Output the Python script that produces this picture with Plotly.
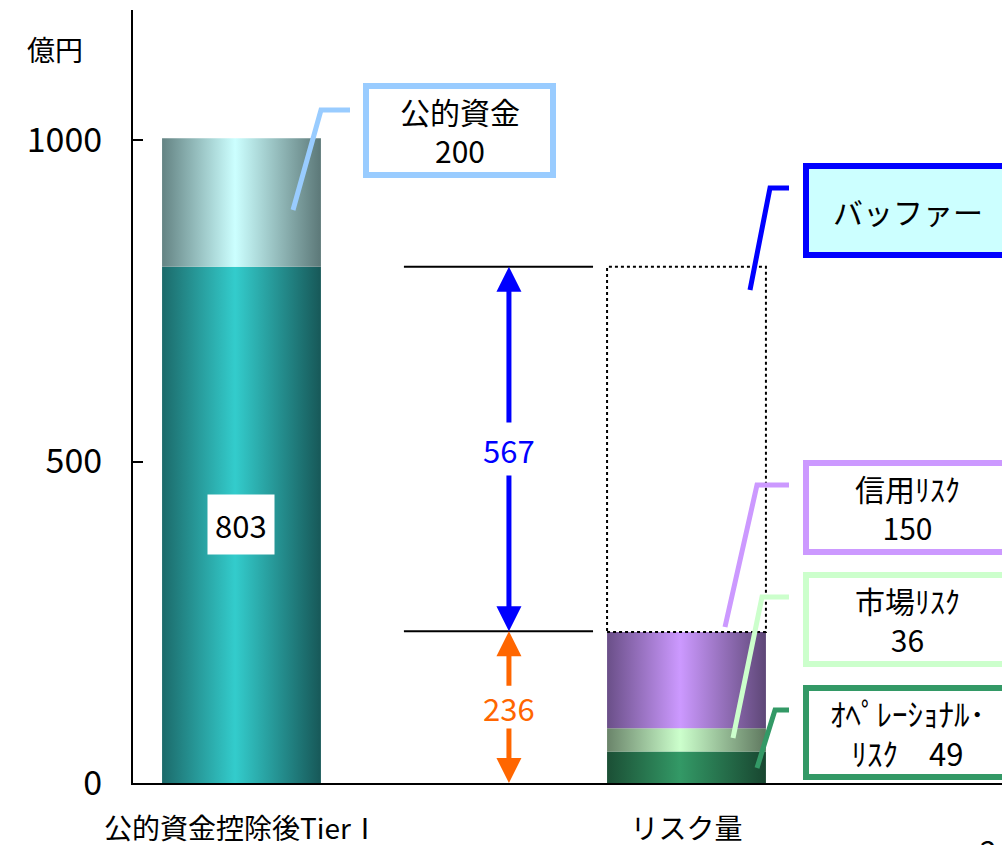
import plotly.graph_objects as go

# ---- data -------------------------------------------------------------
categories = ["公的資金控除後TierⅠ", "リスク量"]
capital_names = ["公的資金控除後TierⅠ", "公的資金"]
capital_values = [803, 200]
risk_names = ["ｵﾍﾟﾚｰｼｮﾅﾙ･ﾘｽｸ", "市場ﾘｽｸ", "信用ﾘｽｸ"]
risk_values = [49, 36, 150]
risk_total = 236
buffer_value = 567
y_ticks = [0, 500, 1000]

FONT = "Noto Sans CJK JP"

# ---- geometry of the plot area (pixels) --------------------------------
L, R, T, B = 133, 1002, 10, 783
W, H = 1002, 845


def px_x(X):
    return (X - L) / (R - L)


def px_y(Y):
    return (B - Y) / (B - T)


bar_pos = [0, 1]
bar_w = 0.357

# gradient colour scales: dark edges, bright centre
grad_capital = [[0, "#1c6a6a"], [0.46, "#33cccc"], [1, "#175858"]]
grad_public = [[0, "#648383"], [0.46, "#ccffff"], [1, "#5c7878"]]
grad_risk = [
    [[0, "#1b4f35"], [0.46, "#339966"], [1, "#184630"]],
    [[0, "#6a846a"], [0.46, "#ccffcc"], [1, "#5f785f"]],
    [[0, "#6a4f88"], [0.46, "#cc99ff"], [1, "#5e4777"]],
]


def bar_segment(center, base, value, scale, name):
    x0, x1 = center - bar_w / 2, center + bar_w / 2
    y0, y1 = base, base + value
    return go.Scatter(
        x=[x0, x1, x1, x0, x0],
        y=[y0, y0, y1, y1, y0],
        mode="lines",
        fill="toself",
        line=dict(width=0),
        fillgradient=dict(type="horizontal", colorscale=scale),
        name=name,
        hoverinfo="name",
        showlegend=False,
    )


fig = go.Figure()

# stacked capital column
base = 0
for name, val, sc in zip(capital_names, capital_values, [grad_capital, grad_public]):
    fig.add_trace(bar_segment(bar_pos[0], base, val, sc, name))
    base += val

# stacked risk column
base = 0
for name, val, sc in zip(risk_names, risk_values, grad_risk):
    fig.add_trace(bar_segment(bar_pos[1], base, val, sc, name))
    base += val
risk_sum = base

shapes = []
annotations = []

# dotted outline of the buffer above the risk column
shapes.append(dict(
    type="rect", xref="x", yref="y",
    x0=bar_pos[1] - bar_w / 2, x1=bar_pos[1] + bar_w / 2,
    y0=risk_sum, y1=capital_values[0],
    line=dict(color="black", width=2, dash="dot"),
    layer="above",
))

# reference levels for the measuring arrows
for lvl in [capital_values[0], risk_total]:
    shapes.append(dict(
        type="line", xref="x", yref="y",
        x0=0.365, x1=0.79, y0=lvl, y1=lvl,
        line=dict(color="black", width=2),
    ))

arrow_x = 0.601


def measure(y_lo, y_hi, value, color, gap):
    mid = (y_lo + y_hi) / 2
    for tip, tail in [(y_hi, mid + gap), (y_lo, mid - gap)]:
        annotations.append(dict(
            x=arrow_x, y=tip, ax=arrow_x, ay=tail,
            xref="x", yref="y", axref="x", ayref="y",
            text="", showarrow=True, arrowhead=2, arrowsize=1,
            arrowwidth=5, arrowcolor=color,
        ))
    annotations.append(dict(
        x=arrow_x, y=mid, xref="x", yref="y", text=str(value),
        xanchor="center", yanchor="middle",
        showarrow=False, font=dict(size=31, color=color, family=FONT),
    ))


measure(risk_total, risk_total + buffer_value, buffer_value, "#0000ff", 39)
measure(0, risk_total, risk_total, "#ff6600", 31)

# value label inside the capital column
annotations.append(dict(
    x=bar_pos[0], y=capital_values[0] / 2, xref="x", yref="y",
    text=str(capital_values[0]), showarrow=False, bgcolor="white",
    xanchor="center", yanchor="middle",
    borderpad=7, font=dict(size=31, color="black", family=FONT),
))


def callout(box, leader, text, color, fill="white", size=30):
    bx0, by0, bx1, by1 = box
    shapes.append(dict(
        type="rect", xref="paper", yref="paper",
        x0=px_x(bx0), x1=px_x(bx1), y0=px_y(by0), y1=px_y(by1),
        line=dict(color=color, width=6), fillcolor=fill, layer="above",
    ))
    path = "M " + " L ".join(f"{px_x(x):.5f},{px_y(y):.5f}" for x, y in leader)
    shapes.append(dict(
        type="path", xref="paper", yref="paper", path=path,
        line=dict(color=color, width=5), layer="above",
    ))
    annotations.append(dict(
        x=px_x((bx0 + bx1) / 2), y=px_y((by0 + by1) / 2),
        xref="paper", yref="paper", text=text, showarrow=False,
        xanchor="center", yanchor="middle",
        font=dict(size=size, color="black", family=FONT),
    ))


callout((366, 86, 553, 175), [(293, 210), (321, 110), (350, 110)],
        f"{capital_names[1]}<br>{capital_values[1]}", "#99ccff")
callout((806, 166, 1009, 255), [(750, 290), (770, 188), (789, 188)],
        "バッファー", "#0000ff", fill="#ccffff")
callout((806, 463, 1009, 552), [(725, 627), (757, 485), (789, 485)],
        f"{risk_names[2]}<br>{risk_values[2]}", "#cc99ff")
callout((806, 575, 1009, 664), [(733, 738), (762, 597), (789, 597)],
        f"{risk_names[1]}<br>{risk_values[1]}", "#ccffcc")
callout((806, 688, 1009, 777), [(757, 768), (775, 710), (789, 710)],
        "ｵﾍﾟﾚｰｼｮﾅﾙ･<br>ﾘｽｸ　" + str(risk_values[0]), "#339966", size=31)

# unit label
annotations.append(dict(
    x=px_x(55), y=px_y(49), xref="paper", yref="paper", text="億円",
    xanchor="center", yanchor="middle",
    showarrow=False, font=dict(size=28, color="black", family=FONT),
))
# page number at the lower right corner
annotations.append(dict(
    x=px_x(978), y=px_y(826), xref="paper", yref="paper", text="2",
    xanchor="left", yanchor="top", showarrow=False,
    font=dict(size=30, color="black", family=FONT),
))

fig.update_layout(
    width=W, height=H,
    margin=dict(l=L, r=W - R, t=T, b=H - B, autoexpand=False),
    paper_bgcolor="white", plot_bgcolor="white",
    showlegend=False,
    shapes=shapes, annotations=annotations,
    font=dict(family=FONT, color="black"),
    xaxis=dict(
        range=[-0.2438, 1.709], tickvals=bar_pos, ticktext=categories,
        showline=True, linecolor="black", linewidth=2, ticks="",
        showgrid=False, zeroline=False, tickfont=dict(size=28),
        ticklabelstandoff=20, fixedrange=True, automargin=False,
    ),
    yaxis=dict(
        range=[0, 1202.5], tickvals=y_ticks, ticks="inside", ticklen=10,
        tickwidth=2, tickcolor="black", showline=True, linecolor="black",
        linewidth=2, showgrid=False, zeroline=False,
        tickfont=dict(size=34), ticklabelstandoff=22, fixedrange=True,
        automargin=False,
    ),
)

fig.write_html("out.html")
